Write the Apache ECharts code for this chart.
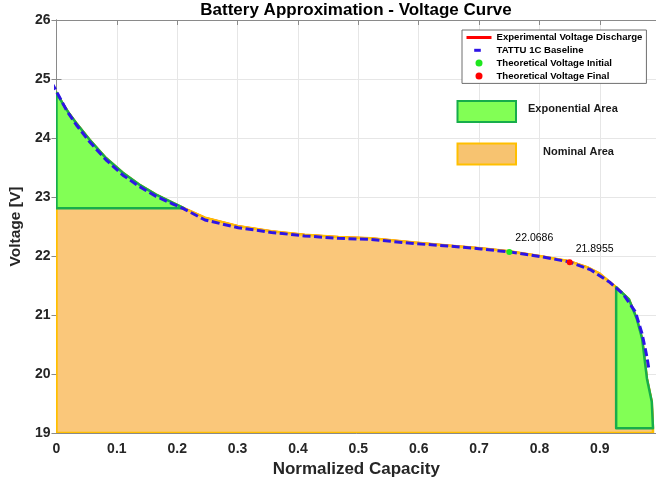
<!DOCTYPE html>
<html>
<head>
<meta charset="utf-8">
<script src="https://cdn.jsdelivr.net/npm/echarts@6/dist/echarts.min.js"></script>
<style>
  html, body { margin: 0; padding: 0; background: #fff; }
  #chart { width: 656px; height: 483px; }
</style>
</head>
<body>
<div id="chart"></div>
<script>
// Measured discharge curve (normalized capacity vs. pack voltage)
const capacity = [0, 0.01, 0.02, 0.033, 0.055, 0.082, 0.11, 0.137, 0.165, 0.193, 0.211,
  0.246, 0.30, 0.356, 0.411, 0.467, 0.521, 0.593, 0.648, 0.703, 0.75, 0.80, 0.85, 0.879,
  0.90, 0.927, 0.948, 0.961, 0.970, 0.978, 0.986, 0.988];
const measuredVoltage = [24.77, 24.59, 24.43, 24.25, 23.97, 23.66, 23.41, 23.21, 23.04, 22.90, 22.81,
  22.65, 22.51, 22.42, 22.36, 22.32, 22.30, 22.23, 22.18, 22.13, 22.08, 22.00, 21.91, 21.81,
  21.70, 21.47, 21.27, 20.94, 20.60, 19.92, 19.53, 19.08];

// Manufacturer 1C reference curve
const baselineCapacity = [-0.008, 0, 0.0165, 0.033, 0.0545, 0.082, 0.11, 0.137, 0.165, 0.193, 0.211,
  0.246, 0.301, 0.356, 0.411, 0.467, 0.521, 0.593, 0.648, 0.703, 0.75, 0.802, 0.849, 0.884,
  0.917, 0.939, 0.959, 0.970, 0.977, 0.981];
const baselineVoltage = [24.94, 24.79, 24.47, 24.22, 23.94, 23.63, 23.37, 23.18, 23.01, 22.88, 22.80,
  22.61, 22.48, 22.40, 22.34, 22.30, 22.28, 22.21, 22.17, 22.12, 22.07, 21.99, 21.90, 21.77,
  21.55, 21.35, 21.05, 20.68, 20.34, 20.10];

// Theoretical operating points
const theoreticalInitial = [0.75, 22.0686];
const theoreticalFinal = [0.85, 21.8955];

// Zone boundaries (indices into the measured curve)
const headZoneEnd = 10;   // end of initial exponential zone
const tailZoneStart = 25; // start of final exponential zone

// Axis settings
const xTicks = { min: 0, max: 0.993, interval: 0.1 };
const yTicks = { min: 19, max: 26, interval: 1 };

const FONT = '"Liberation Sans", Arial, sans-serif';
const TEXT = '#262626';

const pts = (xs, ys) => xs.map((x, i) => [x, ys[i]]);

// Polygons built from the measured curve
const nominalPoly = [[capacity[0], yTicks.min]]
  .concat(pts(capacity, measuredVoltage))
  .concat([[capacity[capacity.length - 1], yTicks.min]]);

const headPoly = pts(capacity.slice(0, headZoneEnd + 1), measuredVoltage.slice(0, headZoneEnd + 1))
  .concat([[capacity[0], measuredVoltage[headZoneEnd]]]);

const lastIdx = capacity.length - 1;
const tailPoly = pts(capacity.slice(tailZoneStart), measuredVoltage.slice(tailZoneStart))
  .concat([[capacity[tailZoneStart], measuredVoltage[lastIdx]]]);

function polygonSeries(name, polys, fill, stroke, z) {
  return {
    type: 'custom',
    name: name,
    z: z,
    silent: true,
    clip: true,
    data: polys.map(p => p[0]),
    renderItem: function (params, api) {
      const poly = polys[params.dataIndex];
      return {
        type: 'polygon',
        shape: { points: poly.map(p => api.coord(p)) },
        style: { fill: fill, stroke: stroke, lineWidth: 2.5, lineJoin: 'round' }
      };
    }
  };
}

const chart = echarts.init(document.getElementById('chart'), null, { renderer: 'canvas' });

const option = {
  backgroundColor: '#ffffff',
  animation: false,
  title: {
    text: 'Battery Approximation - Voltage Curve',
    left: 356, textAlign: 'center', top: 2, padding: 0,
    textStyle: { fontFamily: FONT, fontSize: 17, fontWeight: 'bold', color: '#000' }
  },
  grid: { left: 54, right: 0, top: 20, bottom: 50 },
  legend: {
    orient: 'vertical',
    left: 462, top: 30,
    padding: [2, 4, 2, 3],
    itemWidth: 25, itemHeight: 7, itemGap: 1.8,
    backgroundColor: '#ffffff',
    borderColor: '#6e6e6e', borderWidth: 1,
    selectedMode: false,
    lineStyle: { width: 3 },
    textStyle: { fontFamily: FONT, fontSize: 9.6, fontWeight: 'bold', color: '#000', lineHeight: 11 },
    data: [
      { name: 'Experimental Voltage Discharge', itemStyle: { opacity: 0 } },
      { name: 'TATTU 1C Baseline', itemStyle: { opacity: 0 },
        lineStyle: { type: [6.6, 30], dashOffset: -7.7, width: 3 } },
      { name: 'Theoretical Voltage Initial', icon: 'circle', itemStyle: { opacity: 1 } },
      { name: 'Theoretical Voltage Final', icon: 'circle', itemStyle: { opacity: 1 } }
    ]
  },
  xAxis: [{
    type: 'value', position: 'bottom',
    min: xTicks.min, max: xTicks.max, interval: xTicks.interval,
    name: 'Normalized Capacity', nameLocation: 'middle', nameGap: 24,
    nameTextStyle: { fontFamily: FONT, fontSize: 17, fontWeight: 'bold', color: TEXT },
    axisLine: { show: true, lineStyle: { color: '#8a8a8a', width: 1 } },
    axisTick: { show: true, inside: true, length: 5, lineStyle: { color: '#8a8a8a' } },
    axisLabel: { show: true, margin: 9, showMaxLabel: false, fontFamily: FONT, fontSize: 14, fontWeight: 'bold', color: TEXT },
    splitLine: { show: true, lineStyle: { color: '#e6e6e6', width: 1 } }
  }, {
    type: 'value', position: 'top',
    min: xTicks.min, max: xTicks.max, interval: xTicks.interval,
    axisLine: { show: true, lineStyle: { color: '#8a8a8a', width: 1 } },
    axisTick: { show: true, inside: true, length: 5, lineStyle: { color: '#8a8a8a' } },
    axisLabel: { show: false },
    splitLine: { show: false }
  }],
  yAxis: [{
    type: 'value', position: 'left',
    min: yTicks.min, max: yTicks.max, interval: yTicks.interval,
    name: 'Voltage [V]', nameLocation: 'middle', nameGap: 25, nameRotate: 90,
    nameTextStyle: { fontFamily: FONT, fontSize: 15.5, fontWeight: 'bold', color: TEXT },
    axisLine: { show: true, lineStyle: { color: '#8a8a8a', width: 1 } },
    axisTick: { show: true, inside: true, length: 5, lineStyle: { color: '#8a8a8a' } },
    axisLabel: { margin: 6, fontFamily: FONT, fontSize: 14, fontWeight: 'bold', color: TEXT },
    splitLine: { show: true, lineStyle: { color: '#e6e6e6', width: 1 } }
  }, {
    type: 'value', position: 'right',
    min: yTicks.min, max: yTicks.max, interval: yTicks.interval,
    axisLine: { show: true, lineStyle: { color: '#8a8a8a', width: 1 } },
    axisTick: { show: true, inside: true, length: 5, lineStyle: { color: '#8a8a8a' } },
    axisLabel: { show: false },
    splitLine: { show: false }
  }],
  series: [
    {
      name: 'Experimental Voltage Discharge',
      type: 'line', z: 1,
      data: pts(capacity, measuredVoltage),
      showSymbol: false, symbol: 'none',
      color: '#ff0000',
      lineStyle: { color: '#ff0000', width: 2 }
    },
    polygonSeries('Nominal Area', [nominalPoly], '#fac77a', '#ffbf00', 2),
    polygonSeries('Exponential Area', [headPoly, tailPoly], '#82ff55', '#17ad4b', 3),
    {
      name: 'TATTU 1C Baseline',
      type: 'line', z: 4, clip: false,
      data: pts(baselineCapacity, baselineVoltage),
      showSymbol: false, symbol: 'none',
      color: '#2e14e6',
      lineStyle: { color: '#2e14e6', width: 3, type: [8, 3.5] }
    },
    {
      name: 'Theoretical Voltage Initial',
      type: 'scatter', z: 5,
      data: [theoreticalInitial],
      symbolSize: 6,
      color: '#1ee61e',
      itemStyle: { color: '#1ee61e', opacity: 1 },
      label: {
        show: true, position: 'inside', offset: [25, -14],
        formatter: p => p.value[1].toFixed(4),
        fontFamily: FONT, fontSize: 10.5, color: '#000'
      }
    },
    {
      name: 'Theoretical Voltage Final',
      type: 'scatter', z: 5,
      data: [theoreticalFinal],
      symbolSize: 6,
      color: '#ff0000',
      itemStyle: { color: '#ff0000', opacity: 1 },
      label: {
        show: true, position: 'inside', offset: [25, -13.5],
        formatter: p => p.value[1].toFixed(4),
        fontFamily: FONT, fontSize: 10.5, color: '#000'
      }
    }
  ],
  graphic: [
    { type: 'rect', left: 456.5, top: 100, z: 10,
      shape: { width: 58.5, height: 21 },
      style: { fill: '#82ff55', stroke: '#17ad4b', lineWidth: 2 } },
    { type: 'text', left: 528, top: 103, z: 10,
      style: { text: 'Exponential Area', fontFamily: FONT, fontSize: 11, fontWeight: 'bold', fill: '#1a1a1a' } },
    { type: 'rect', left: 456.5, top: 142.5, z: 10,
      shape: { width: 58.5, height: 21 },
      style: { fill: '#f7c370', stroke: '#ffbf00', lineWidth: 2 } },
    { type: 'text', left: 543, top: 146, z: 10,
      style: { text: 'Nominal Area', fontFamily: FONT, fontSize: 11, fontWeight: 'bold', fill: '#1a1a1a' } }
  ]
};

chart.setOption(option);
</script>
</body>
</html>
